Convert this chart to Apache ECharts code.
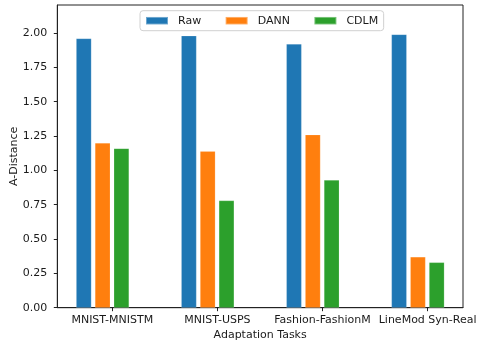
<!DOCTYPE html>
<html>
<head>
<meta charset="utf-8">
<script src="https://cdn.jsdelivr.net/npm/echarts@6/dist/echarts.min.js"></script>
<style>
  html, body { margin: 0; padding: 0; background: #fff; }
  #chart { width: 477px; height: 343px; }
</style>
</head>
<body>
<div id="chart"></div>
<script>
// A-distance per adaptation task
const categories = ['MNIST-MNISTM', 'MNIST-USPS', 'Fashion-FashionM', 'LineMod Syn-Real'];
const rawValues  = [1.96, 1.98, 1.92, 1.99];
const dannValues = [1.20, 1.14, 1.26, 0.37];
const cdlmValues = [1.16, 0.78, 0.93, 0.33];
const yTicks = [0, 0.25, 0.5, 0.75, 1.0, 1.25, 1.5, 1.75, 2.0];
const yMax = 2.204;

const FONT = 'DejaVu Sans';
const TXT = '#1a1a1a';

const chart = echarts.init(document.getElementById('chart'), null, { renderer: 'canvas' });

const barCommon = {
  type: 'bar',
  xAxisIndex: 0,
  yAxisIndex: 0,
  barWidth: 15.3,
  barGap: '23%',
  itemStyle: { borderColor: 'rgba(255,255,255,0.35)', borderWidth: 0.5 }
};

chart.setOption({
  animation: false,
  textStyle: { fontFamily: FONT },
  grid: [
    // bar grid: one category band per task
    { left: 50.05, width: 420.4, top: 5, bottom: 35.3, show: false,
      outerBoundsMode: 'none', containLabel: false },
    // framed axes with ticks and labels
    { left: 57.3, right: 14, top: 5, bottom: 35.3, show: true,
      outerBoundsMode: 'none', containLabel: false,
      borderColor: '#222', borderWidth: 1, backgroundColor: 'transparent' }
  ],
  legend: {
    left: 140, top: 10.7,
    padding: [4.5, 5.5, 4.5, 5],
    itemGap: 23.5,
    itemWidth: 22, itemHeight: 7.5,
    icon: 'rect',
    backgroundColor: 'rgba(255,255,255,0.8)',
    borderColor: '#d0d0d0', borderWidth: 1, borderRadius: 3,
    textStyle: { fontFamily: FONT, fontSize: 11, color: TXT, padding: [0, 0, 0, 5], lineHeight: 11 },
    data: ['Raw', 'DANN', 'CDLM']
  },
  xAxis: [
    { type: 'category', gridIndex: 0, data: categories, show: false },
    { type: 'value', gridIndex: 1, min: -0.5233, max: 3.3368,
      axisLine: { show: true, onZero: false, lineStyle: { color: '#222', width: 1 } },
      axisTick: { show: true, length: 3.5, customValues: [0, 1, 2, 3], lineStyle: { color: '#222' } },
      axisLabel: { show: true, customValues: [0, 1, 2, 3], margin: 7,
        fontFamily: FONT, fontSize: 11, color: TXT,
        formatter: v => categories[Math.round(v)] },
      splitLine: { show: false },
      name: 'Adaptation Tasks', nameLocation: 'middle', nameGap: 22, nameMoveOverlap: false,
      nameTextStyle: { fontFamily: FONT, fontSize: 11, color: TXT } }
  ],
  yAxis: [
    { type: 'value', gridIndex: 0, min: 0, max: yMax, show: false, splitLine: { show: false } },
    { type: 'value', gridIndex: 1, min: 0, max: yMax,
      axisLine: { show: true, onZero: false, lineStyle: { color: '#222', width: 1 } },
      axisTick: { show: true, length: 3.5, customValues: yTicks, lineStyle: { color: '#222' } },
      axisLabel: { show: true, customValues: yTicks, margin: 10,
        fontFamily: FONT, fontSize: 11, color: TXT,
        formatter: v => v.toFixed(2) },
      splitLine: { show: false },
      name: 'A-Distance', nameLocation: 'middle', nameGap: 38, nameMoveOverlap: false,
      nameTextStyle: { fontFamily: FONT, fontSize: 11, color: TXT } }
  ],
  series: [
    Object.assign({}, barCommon, { name: 'Raw',  data: rawValues,  itemStyle: Object.assign({}, barCommon.itemStyle, { color: '#1f77b4' }) }),
    Object.assign({}, barCommon, { name: 'DANN', data: dannValues, itemStyle: Object.assign({}, barCommon.itemStyle, { color: '#ff7f0e' }) }),
    Object.assign({}, barCommon, { name: 'CDLM', data: cdlmValues, itemStyle: Object.assign({}, barCommon.itemStyle, { color: '#2ca02c' }) })
  ]
});
</script>
</body>
</html>
